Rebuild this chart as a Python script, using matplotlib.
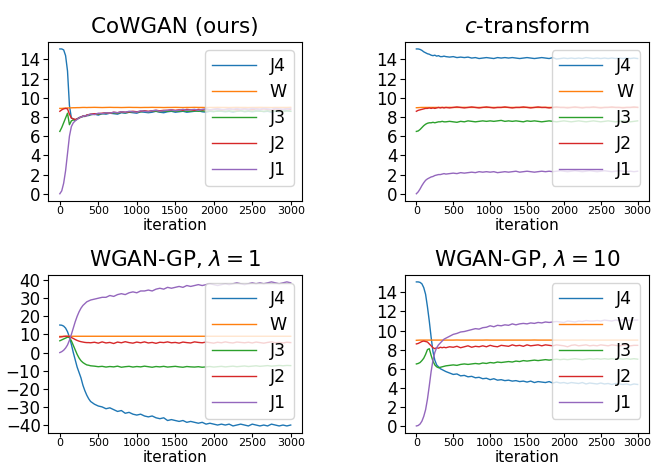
import matplotlib
matplotlib.use("Agg")
import matplotlib.pyplot as plt
from matplotlib.ticker import MultipleLocator

# ---- data -------------------------------------------------------------
iterations = list(range(0, 400, 25)) + list(range(400, 3001, 50))
labels = ["J4", "W", "J3", "J2", "J1"]
titles = ["CoWGAN (ours)", "$c$-transform", "WGAN-GP, $\\lambda=1$", "WGAN-GP, $\\lambda=10$"]

cow_J4 = [15.1, 15.1, 15.0, 14.4, 12.8, 9.2, 7.9, 7.8,
          7.7, 7.8, 7.95, 8.0, 8.1, 8.05, 8.2, 8.15,
          8.25, 8.3, 8.2, 8.35, 8.3, 8.4, 8.35, 8.3, 8.45, 8.4,
          8.5, 8.45, 8.4, 8.55, 8.5, 8.45, 8.5, 8.6, 8.5, 8.45,
          8.55, 8.6, 8.5, 8.55, 8.6, 8.5, 8.55, 8.6, 8.65, 8.55,
          8.5, 8.6, 8.55, 8.65, 8.6, 8.55, 8.6, 8.5, 8.6, 8.65,
          8.55, 8.6, 8.55, 8.6, 8.65, 8.55, 8.6, 8.5, 8.6, 8.55,
          8.6, 8.65, 8.6]
cow_W = [8.9, 8.9, 8.92, 8.93, 8.95, 8.95, 8.96, 8.97,
         8.97, 8.98, 8.98, 8.99, 9.0, 9.0, 8.99, 9.0,
         9.0, 9.01, 9.0, 8.99, 9.0, 9.01, 9.0, 9.0, 8.99, 9.0,
         9.01, 9.0, 9.0, 8.99, 9.0, 9.0, 9.01, 9.0, 9.0, 8.99,
         9.0, 9.0, 9.01, 9.0, 8.99, 9.0, 9.0, 9.01, 9.0, 9.0,
         8.99, 9.0, 9.0, 9.01, 9.0, 9.0, 8.99, 9.0, 9.01, 9.0,
         9.0, 8.99, 9.0, 9.0, 9.01, 9.0, 9.0, 8.99, 9.0, 9.0,
         9.0, 9.0, 9.01]
cow_J3 = [6.5, 6.9, 7.4, 7.9, 8.4, 7.2, 7.6, 7.7,
          7.65, 7.8, 7.9, 8.0, 8.05, 8.1, 8.15, 8.2,
          8.25, 8.3, 8.3, 8.35, 8.4, 8.4, 8.45, 8.4, 8.5, 8.45,
          8.5, 8.55, 8.5, 8.55, 8.6, 8.55, 8.6, 8.6, 8.55, 8.6,
          8.6, 8.65, 8.6, 8.6, 8.65, 8.6, 8.6, 8.65, 8.6, 8.65,
          8.6, 8.65, 8.6, 8.6, 8.65, 8.6, 8.65, 8.6, 8.6, 8.65,
          8.6, 8.65, 8.6, 8.65, 8.6, 8.6, 8.65, 8.6, 8.65, 8.6,
          8.6, 8.65, 8.6]
cow_J2 = [8.6, 8.75, 8.85, 8.9, 8.85, 8.3, 7.9, 7.8,
          7.75, 7.8, 7.9, 8.0, 8.1, 8.1, 8.2, 8.25,
          8.3, 8.35, 8.35, 8.4, 8.45, 8.4, 8.5, 8.45, 8.55, 8.5,
          8.55, 8.6, 8.55, 8.6, 8.65, 8.6, 8.65, 8.7, 8.65, 8.7,
          8.7, 8.75, 8.7, 8.75, 8.7, 8.8, 8.75, 8.7, 8.8, 8.75,
          8.8, 8.75, 8.8, 8.85, 8.75, 8.8, 8.85, 8.8, 8.75, 8.8,
          8.85, 8.8, 8.75, 8.85, 8.8, 8.85, 8.8, 8.75, 8.85, 8.8,
          8.8, 8.85, 8.8]
cow_J1 = [0.0, 0.3, 1.1, 2.4, 4.2, 6.0, 7.0, 7.4,
          7.6, 7.75, 7.9, 8.0, 8.05, 8.15, 8.1, 8.25,
          8.3, 8.25, 8.4, 8.35, 8.45, 8.4, 8.5, 8.45, 8.55, 8.5,
          8.6, 8.55, 8.5, 8.65, 8.6, 8.55, 8.65, 8.7, 8.6, 8.65,
          8.7, 8.75, 8.65, 8.7, 8.8, 8.7, 8.75, 8.8, 8.7, 8.8,
          8.85, 8.75, 8.8, 8.85, 8.8, 8.75, 8.85, 8.8, 8.9, 8.8,
          8.85, 8.8, 8.9, 8.85, 8.8, 8.9, 8.85, 8.8, 8.9, 8.85,
          8.8, 8.85, 8.9]

ct_J4 = [15.1, 15.1, 15.05, 14.95, 14.8, 14.7, 14.6, 14.55,
         14.45, 14.4, 14.45, 14.35, 14.4, 14.3, 14.3, 14.35,
         14.3, 14.25, 14.3, 14.2, 14.25, 14.2, 14.25, 14.15, 14.2, 14.1,
         14.15, 14.2, 14.15, 14.1, 14.2, 14.15, 14.2, 14.15, 14.2, 14.15,
         14.1, 14.15, 14.2, 14.15, 14.1, 14.15, 14.2, 14.15, 14.1, 14.2,
         14.05, 14.1, 14.15, 14.1, 14.15, 14.1, 14.15, 14.1, 14.2, 14.15,
         14.1, 14.15, 14.1, 14.15, 14.1, 14.15, 14.1, 14.15, 14.1, 14.15,
         14.1, 14.15, 14.1]
ct_W = [8.97, 8.98, 8.99, 9.0, 9.0, 9.0, 9.0, 9.0,
        9.0, 9.0, 9.0, 9.0, 9.0, 9.0, 9.0, 9.0,
        9.0, 9.01, 9.0, 9.0, 9.0, 9.01, 9.0, 9.0, 9.0, 9.0,
        9.01, 9.0, 9.0, 9.0, 9.0, 9.0, 9.01, 9.0, 9.0, 9.0,
        9.0, 9.0, 9.01, 9.0, 9.0, 9.0, 9.0, 9.01, 9.0, 9.0,
        9.0, 9.0, 9.0, 9.01, 9.0, 9.0, 9.0, 9.0, 9.01, 9.0,
        9.0, 9.0, 9.0, 9.0, 9.01, 9.0, 9.0, 9.0, 9.0, 9.0,
        9.0, 9.0, 9.01]
ct_J3 = [6.5, 6.55, 6.7, 6.9, 7.1, 7.25, 7.35, 7.4,
         7.4, 7.45, 7.4, 7.45, 7.5, 7.5, 7.55, 7.5,
         7.5, 7.55, 7.5, 7.45, 7.55, 7.5, 7.6, 7.55, 7.5, 7.55,
         7.6, 7.55, 7.6, 7.55, 7.6, 7.65, 7.55, 7.6, 7.55, 7.6,
         7.55, 7.5, 7.6, 7.55, 7.6, 7.55, 7.5, 7.55, 7.6, 7.55,
         7.5, 7.55, 7.6, 7.55, 7.5, 7.55, 7.6, 7.55, 7.5, 7.55,
         7.6, 7.55, 7.5, 7.55, 7.6, 7.55, 7.5, 7.55, 7.6, 7.55,
         7.5, 7.55, 7.6]
ct_J2 = [8.6, 8.7, 8.75, 8.8, 8.85, 8.9, 8.9, 8.95,
         8.9, 8.95, 8.9, 8.95, 9.0, 8.95, 9.0, 8.95,
         9.0, 8.95, 9.0, 9.05, 9.0, 8.95, 9.0, 9.05, 9.0, 8.95,
         9.0, 9.05, 9.0, 8.95, 9.0, 9.0, 9.05, 9.0, 8.95, 9.0,
         9.0, 9.05, 9.0, 8.95, 9.0, 9.05, 9.0, 9.0, 8.95, 9.0,
         9.05, 9.0, 9.0, 8.95, 9.0, 9.05, 9.0, 8.95, 9.0, 9.0,
         9.05, 9.0, 8.95, 9.0, 9.0, 9.05, 9.0, 9.0, 8.95, 9.0,
         9.0, 9.05, 9.0]
ct_J1 = [0.0, 0.2, 0.5, 0.85, 1.15, 1.4, 1.55, 1.65,
         1.75, 1.8, 1.9, 1.95, 2.0, 2.0, 2.05, 2.1,
         2.05, 2.1, 2.15, 2.1, 2.2, 2.15, 2.2, 2.25, 2.2, 2.3,
         2.25, 2.3, 2.25, 2.3, 2.2, 2.25, 2.3, 2.25, 2.3, 2.35,
         2.25, 2.3, 2.35, 2.3, 2.25, 2.3, 2.35, 2.3, 2.35, 2.3,
         2.35, 2.4, 2.35, 2.3, 2.35, 2.4, 2.35, 2.3, 2.35, 2.4,
         2.35, 2.3, 2.35, 2.4, 2.35, 2.3, 2.35, 2.4, 2.35, 2.3,
         2.35, 2.3, 2.35]

gp1_J4 = [15.2, 15.1, 14.6, 13.5, 11.5, 8.5, 4.5, 0.0,
          -4.0, -8.0, -11.0, -14.0, -18.0, -21.0, -23.5, -25.5,
          -27.0, -28.5, -29.5, -30.0, -31.0, -30.5, -31.5, -32.5, -32.0, -33.5,
          -33.0, -34.0, -34.5, -34.0, -35.0, -35.5, -35.0, -36.0, -36.5, -36.0,
          -37.5, -37.0, -37.5, -38.0, -37.5, -38.5, -38.0, -38.5, -39.0, -38.5,
          -39.5, -39.0, -39.5, -40.0, -39.5, -40.0, -39.5, -40.5, -40.0, -39.5,
          -40.0, -40.5, -39.5, -40.0, -40.5, -40.0, -40.5, -39.5, -40.0, -40.5,
          -40.0, -40.5, -40.0]
gp1_W = [8.9, 8.92, 8.95, 8.97, 8.98, 9.0, 9.0, 9.0,
         9.0, 9.0, 9.0, 9.0, 9.0, 9.0, 9.0, 9.0,
         9.0, 9.0, 9.0, 9.0, 9.0, 9.0, 9.0, 9.0, 9.0, 9.0,
         9.0, 9.0, 9.0, 9.0, 9.0, 9.0, 9.0, 9.0, 9.0, 9.0,
         9.0, 9.0, 9.0, 9.0, 9.0, 9.0, 9.0, 9.0, 9.0, 9.0,
         9.0, 9.0, 9.0, 9.0, 9.0, 9.0, 9.0, 9.0, 9.0, 9.0,
         9.0, 9.0, 9.0, 9.0, 9.0, 9.0, 9.0, 9.0, 9.0, 9.0,
         9.0, 9.0, 9.0]
gp1_J3 = [6.5, 7.0, 7.5, 8.0, 8.5, 8.3, 6.5, 4.0,
          1.5, -1.0, -3.0, -4.5, -5.5, -6.2, -6.8, -7.0,
          -7.3, -7.5, -7.8, -7.6, -8.0, -7.7, -7.9, -7.5, -8.1, -7.8,
          -7.6, -8.0, -7.7, -7.9, -7.5, -7.8, -8.1, -7.7, -7.9, -7.6,
          -8.0, -7.8, -7.6, -7.9, -8.1, -7.7, -7.9, -8.0, -7.8, -8.1,
          -7.9, -7.7, -8.0, -7.8, -7.6, -7.9, -7.7, -7.5, -7.8, -7.6,
          -7.4, -7.7, -7.5, -7.3, -7.6, -7.4, -7.2, -7.5, -7.3, -7.1,
          -7.3, -7.1, -7.2]
gp1_J2 = [8.6, 8.7, 8.9, 9.0, 9.0, 8.8, 8.3, 7.8,
          7.2, 6.7, 6.3, 6.0, 5.8, 5.6, 5.5, 5.5,
          5.4, 5.7, 5.2, 5.9, 5.3, 5.6, 5.0, 5.8, 5.4, 6.0,
          5.5, 5.2, 5.8, 5.4, 5.9, 5.3, 5.6, 5.1, 5.7, 5.5,
          5.9, 5.4, 5.6, 5.2, 5.8, 5.5, 5.3, 5.9, 5.6, 5.4,
          5.8, 5.5, 5.2, 5.7, 5.4, 5.9, 5.5, 5.3, 5.8, 5.6,
          5.4, 5.7, 5.3, 5.8, 5.5, 5.2, 5.6, 5.9, 5.4, 5.6,
          5.3, 5.7, 5.5]
gp1_J1 = [0.0, 0.5, 1.3, 2.5, 4.2, 6.8, 10.0, 13.5,
          17.0, 20.0, 22.5, 24.5, 26.0, 27.0, 28.0, 28.5,
          29.0, 29.5, 30.0, 30.5, 30.5, 31.5, 31.0, 32.0, 32.5, 32.0,
          33.0, 33.5, 33.0, 34.0, 34.0, 34.5, 34.0, 35.0, 35.5, 35.0,
          36.0, 35.5, 36.0, 36.5, 36.0, 37.0, 36.5, 37.0, 37.5, 37.0,
          37.5, 38.0, 37.5, 37.0, 37.5, 38.0, 37.5, 38.0, 38.5, 38.0,
          37.5, 38.0, 38.5, 38.0, 38.5, 38.0, 38.5, 39.0, 38.5, 38.0,
          38.5, 39.0, 38.5]

gp10_J4 = [15.1, 15.1, 15.05, 14.9, 14.5, 13.8, 12.5, 11.0,
           9.3, 7.8, 6.9, 6.4, 6.2, 6.0, 5.9, 5.8,
           5.7, 5.55, 5.4, 5.45, 5.25, 5.3, 5.15, 5.2, 5.05, 5.1,
           4.95, 5.0, 4.85, 4.95, 4.8, 4.85, 4.75, 4.8, 4.7, 4.75,
           4.65, 4.7, 4.6, 4.7, 4.55, 4.65, 4.6, 4.55, 4.65, 4.5,
           4.6, 4.5, 4.55, 4.45, 4.55, 4.5, 4.45, 4.55, 4.4, 4.5,
           4.45, 4.4, 4.5, 4.4, 4.45, 4.35, 4.45, 4.4, 4.35, 4.4,
           4.3, 4.4, 4.35]
gp10_W = [8.98, 8.99, 9.0, 9.0, 9.0, 9.0, 9.0, 9.0,
          9.0, 9.0, 9.0, 9.0, 9.0, 9.0, 9.0, 9.0,
          9.0, 9.0, 9.0, 9.01, 9.0, 9.0, 9.0, 9.0, 9.0, 9.0,
          9.0, 9.01, 9.0, 9.0, 9.0, 9.0, 9.0, 9.0, 9.0, 9.0,
          9.0, 9.0, 9.0, 9.0, 9.01, 9.0, 9.0, 9.0, 9.0, 9.0,
          9.0, 9.0, 9.0, 9.0, 9.0, 9.0, 9.0, 9.01, 9.0, 9.0,
          9.0, 9.0, 9.0, 9.0, 9.0, 9.0, 9.0, 9.0, 9.0, 9.0,
          9.0, 9.0, 9.0]
gp10_J3 = [6.5, 6.55, 6.65, 6.85, 7.1, 7.5, 8.0, 8.1,
           7.4, 6.8, 6.4, 6.2, 6.1, 6.15, 6.2, 6.25,
           6.3, 6.35, 6.4, 6.35, 6.45, 6.5, 6.45, 6.5, 6.55, 6.5,
           6.6, 6.55, 6.65, 6.6, 6.7, 6.65, 6.7, 6.75, 6.7, 6.8,
           6.75, 6.85, 6.8, 6.85, 6.9, 6.85, 6.9, 6.95, 6.9, 6.95,
           7.0, 6.95, 7.0, 6.95, 7.0, 7.05, 7.0, 6.95, 7.0, 7.05,
           7.0, 7.05, 7.0, 7.05, 7.0, 7.05, 7.0, 7.05, 7.0, 7.05,
           7.0, 7.05, 7.0]
gp10_J2 = [8.6, 8.65, 8.75, 8.85, 8.9, 8.85, 8.8, 8.6,
           8.4, 8.2, 8.1, 8.2, 8.15, 8.25, 8.2, 8.25,
           8.2, 8.3, 8.25, 8.35, 8.2, 8.3, 8.4, 8.25, 8.35, 8.3,
           8.4, 8.3, 8.45, 8.35, 8.3, 8.45, 8.4, 8.35, 8.5, 8.4,
           8.45, 8.35, 8.5, 8.4, 8.45, 8.5, 8.4, 8.5, 8.45, 8.4,
           8.5, 8.45, 8.4, 8.3, 8.45, 8.5, 8.4, 8.45, 8.5, 8.4,
           8.45, 8.4, 8.5, 8.45, 8.4, 8.5, 8.45, 8.4, 8.45, 8.5,
           8.4, 8.45, 8.45]
gp10_J1 = [0.0, 0.05, 0.2, 0.5, 1.0, 1.7, 2.8, 4.2,
           5.7, 6.9, 7.7, 8.2, 8.5, 8.7, 8.9, 9.1,
           9.2, 9.4, 9.6, 9.7, 9.85, 9.9, 10.0, 10.1, 10.2, 10.15,
           10.3, 10.35, 10.5, 10.4, 10.55, 10.5, 10.6, 10.55, 10.7, 10.6,
           10.7, 10.75, 10.7, 10.8, 10.75, 10.85, 10.8, 10.9, 10.85, 10.9,
           10.95, 10.9, 10.85, 11.0, 10.95, 10.9, 11.0, 10.95, 11.05, 11.0,
           11.0, 11.05, 11.0, 11.1, 11.05, 11.0, 11.1, 11.05, 11.15, 11.1,
           11.05, 11.1, 11.1]

panels = [
    [cow_J4, cow_W, cow_J3, cow_J2, cow_J1],
    [ct_J4, ct_W, ct_J3, ct_J2, ct_J1],
    [gp1_J4, gp1_W, gp1_J3, gp1_J2, gp1_J1],
    [gp10_J4, gp10_W, gp10_J3, gp10_J2, gp10_J1],
]
y_steps = [2, 2, 10, 2]

# ---- layout ------------------------------------------------------------
colors = ["#1f77b4", "#ff7f0e", "#2ca02c", "#d62728", "#9467bd"]
positions = [
    (0.0727, 0.5687, 0.3825, 0.3418),
    (0.6104, 0.5687, 0.3666, 0.3418),
    (0.0727, 0.0705, 0.3825, 0.3400),
    (0.6104, 0.0705, 0.3666, 0.3400),
]

fig = plt.figure(figsize=(6.64, 4.66), dpi=100)
for pos, series, title, ystep in zip(positions, panels, titles, y_steps):
    ax = fig.add_axes(pos)
    for vals, lab, col in zip(series, labels, colors):
        ax.plot(iterations, vals, color=col, lw=1.0, label=lab)
    ax.set_title(title, fontsize=15.5, pad=6)
    ax.set_xlabel("iteration", fontsize=11, labelpad=1.5)
    ax.xaxis.set_major_locator(MultipleLocator(500))
    ax.yaxis.set_major_locator(MultipleLocator(ystep))
    ax.tick_params(axis="x", labelsize=8, pad=0.5, length=3)
    ax.tick_params(axis="y", labelsize=12, pad=2)
    ax.legend(loc="upper right", fontsize=12.5, handlelength=2.5,
              labelspacing=0.45)

fig.savefig("out.png", dpi=100)
